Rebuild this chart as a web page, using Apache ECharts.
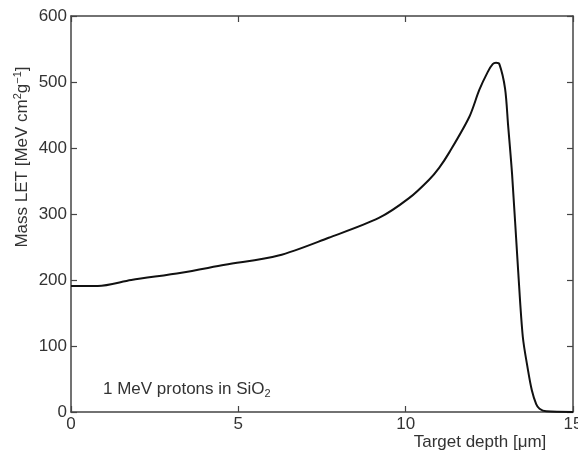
<!DOCTYPE html>
<html>
<head>
<meta charset="utf-8">
<script src="https://cdn.jsdelivr.net/npm/echarts@6/dist/echarts.min.js"></script>
<style>
html, body { margin: 0; padding: 0; background: #fff; }
#chart { width: 578px; height: 459px; }
</style>
</head>
<body>
<div id="chart"></div>
<script>
// depth in um, mass LET in MeV cm2/g
let depth = [0, 0.2, 0.8, 1.8, 3.3, 4.6, 6.2, 7.7, 9.2, 10.1, 10.7, 11.0, 11.3, 11.9,
    12.2, 12.45, 12.6, 12.7, 12.8, 12.97, 13.06, 13.18, 13.36, 13.5, 13.65, 13.77, 13.9, 14.0, 14.2, 15];
let massLet = [191, 191, 191, 200, 211, 223, 237, 264, 294, 324, 352, 370, 393, 447,
    488, 515, 527, 529, 527, 490, 435, 360, 215, 114, 65, 33, 12, 5, 1, 0];

let fontName = 'Liberation Sans';
let axisColor = '#444';
let textColor = '#333';

let points = [];
depth.forEach((d, i) => points.push([d, massLet[i]]));

let chart = echarts.init(document.getElementById('chart'));

// common axis look (box frame, ticks inside)
function frameAxis(extra) {
    return Object.assign({
        type: 'value',
        axisLine: {show: true, onZero: false, lineStyle: {color: axisColor, width: 1.5}},
        axisTick: {show: true, inside: true, length: 6, lineStyle: {color: axisColor, width: 1.2}},
        axisLabel: {show: false},
        splitLine: {show: false}
    }, extra);
}

let option = {
    animation: false,
    grid: {left: 71, top: 16, right: 5, bottom: 47, containLabel: false, outerBoundsMode: 'none'},
    xAxis: [
        frameAxis({
            min: 0, max: 15, interval: 5,
            axisLabel: {show: true, color: textColor, fontFamily: fontName, fontSize: 17, margin: 4}
        }),
        frameAxis({position: 'top', min: 0, max: 15, interval: 5})
    ],
    yAxis: [
        frameAxis({
            min: 0, max: 600, interval: 100,
            axisLabel: {show: true, color: textColor, fontFamily: fontName, fontSize: 17, margin: 4}
        }),
        frameAxis({position: 'right', min: 0, max: 600, interval: 100})
    ],
    graphic: [
        {
            type: 'text', x: 22, y: 157, rotation: Math.PI / 2,
            style: {
                text: 'Mass LET [MeV cm{sup|2}g{sup|−1}]',
                fill: textColor, font: '17px "Liberation Sans"',
                align: 'center', verticalAlign: 'middle',
                rich: {sup: {fontSize: 11, fontFamily: fontName, fill: textColor, padding: [0, 0, 9, 0]}}
            }
        },
        {
            type: 'text', x: 480, y: 442,
            style: {
                text: 'Target depth [μm]', fill: textColor, font: '17px "Liberation Sans"',
                align: 'center', verticalAlign: 'middle'
            }
        },
        {
            type: 'text', x: 103, y: 389,
            style: {
                text: '1 MeV protons in SiO{sub|2}',
                fill: textColor, font: '17px "Liberation Sans"',
                align: 'left', verticalAlign: 'middle',
                rich: {sub: {fontSize: 11, fontFamily: fontName, fill: textColor, padding: [9, 0, 0, 0]}}
            }
        }
    ],
    series: [
        {
            type: 'line',
            data: points,
            smooth: 0.3,
            symbol: 'none',
            lineStyle: {color: '#111', width: 2}
        }
    ]
};

chart.setOption(option);
</script>
</body>
</html>
